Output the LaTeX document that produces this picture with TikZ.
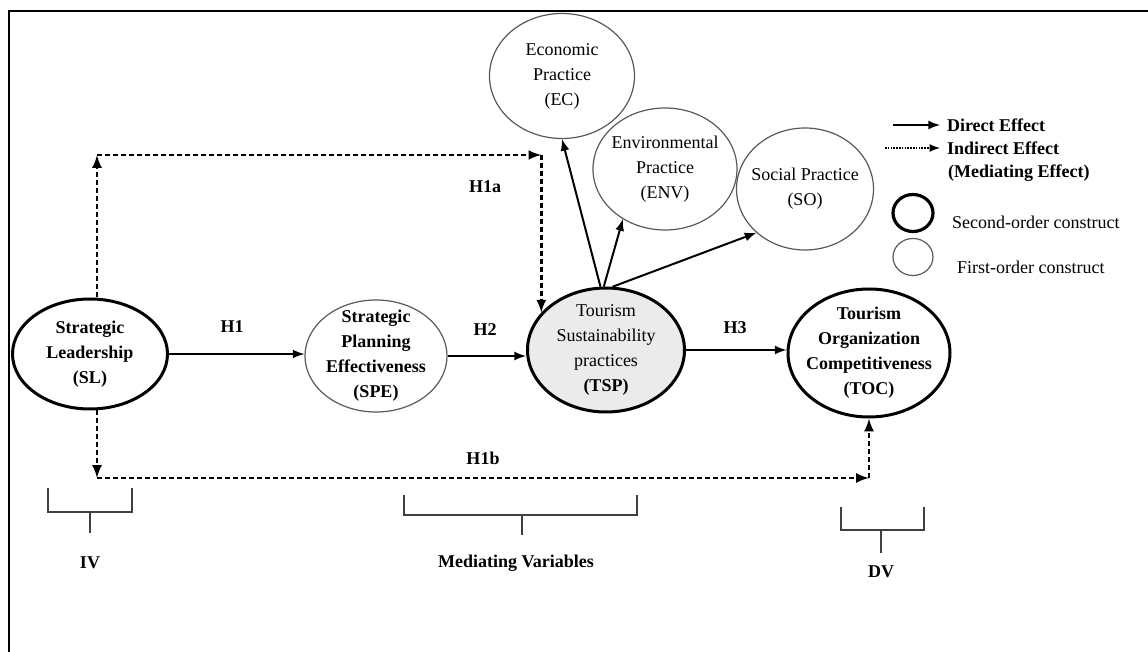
\documentclass[tikz,border=0pt]{standalone}
\usepackage{fontspec}
\setmainfont{Liberation Serif}
\usetikzlibrary{shapes.geometric,arrows,positioning,calc}

\tikzset{
  construct/.style={ellipse,draw,inner sep=0pt},
  second/.style={construct,line width=1.5pt},
  first/.style={construct,line width=0.6pt,draw=black!65},
  txt/.style={align=center,font=\fontsize{9}{12.5}\selectfont},
  btxt/.style={align=center,font=\fontsize{9}{12.5}\selectfont\bfseries},
  hyp/.style={font=\fontsize{9}{11}\selectfont\bfseries},
  direct/.style={line width=1pt,-latex},
  indirect/.style={line width=1.2pt,dash pattern=on 2.5pt off 1.5pt,-latex},
  bracket/.style={line width=0.6pt,draw=black!75}
}

\begin{document}
\begin{tikzpicture}[x=0.5pt,y=-0.5pt]
\useasboundingbox (0,0) rectangle (1148,652);
% frame
\draw[line width=1pt] (9,652) -- (9,11) -- (1148,11);

% main constructs
\node[second,minimum width=77.5pt,minimum height=55pt,label={[btxt]center:{Strategic\\ Leadership\\ (SL)}}] (sl) at (90,354) {};
\node[first,minimum width=71pt,minimum height=56pt,label={[btxt]center:{Strategic\\ Planning\\ Effectiveness\\ (SPE)}}] (spe) at (376,356) {};
\node[second,fill=black!8,minimum width=78.5pt,minimum height=62pt,label={[txt]center:{Tourism\\ Sustainability\\ practices\\ \textbf{(TSP)}}}] (tsp) at (606,350) {};
\node[second,minimum width=81pt,minimum height=64pt,label={[btxt]center:{Tourism\\ Organization\\ Competitiveness\\ (TOC)}}] (toc) at (869,353) {};

% dimensions of TSP
\node[first,minimum width=72.5pt,minimum height=62.5pt,label={[txt]center:{Economic\\ Practice\\ (EC)}}] (ec) at (562,76) {};
\node[first,minimum width=72pt,minimum height=61pt,label={[txt]center:{Environmental\\ Practice\\ (ENV)}}] (env) at (665,169) {};
\node[first,minimum width=68.5pt,minimum height=61pt,label={[txt]center:{Social Practice\\ (SO)}}] (so) at (805,189) {};

% direct paths
\draw[direct] (sl.east) -- (sl.east -| spe.west);
\draw[direct] (spe.east) -- (spe.east -| tsp.west);
\draw[direct] (tsp.east) -- (tsp.east -| toc.west);
\draw[direct] (tsp.95) -- (ec.south);
\draw[direct] (tsp.92) -- (env.230);
\draw[direct] (tsp.84) -- (so.222);

\node[hyp] (h1) at (232,327) {H1};
\node[hyp] (h2) at (485,330) {H2};
\node[hyp] (h3) at (735,328) {H3};

% indirect paths
\coordinate (a1) at (97,155);
\coordinate (a2) at (tsp.150 |- a1);
\draw[indirect] (a1 |- sl.north) -- (a1);
\draw[indirect] (a1) -- (a2);
\draw[indirect] (a2) -- (tsp.150);
\node[hyp] (h1a) at (485,187) {H1a};

\coordinate (b1) at (97,478);
\coordinate (b2) at (toc.south |- b1);
\draw[indirect] (b1 |- sl.south) -- (b1);
\draw[indirect] (b1) -- (b2);
\draw[indirect] (b2) -- (toc.south);
\node[hyp] (h1b) at (483,458) {H1b};

% legend
\node[hyp,anchor=west] (ldir) at (940,125) {Direct Effect};
\node[hyp,anchor=west] (lind) at (940,148) {Indirect Effect};
\node[hyp,anchor=west] (lmed) at (941,173) {(Mediating Effect)};
\coordinate (ld) at (893,125);
\coordinate (li) at (885,148);
\draw[direct] (ld) -- (ldir.west);
\draw[line width=0.8pt,dash pattern=on 0.8pt off 0.6pt,-latex] (li) -- (lind.west);
\node[construct,line width=1.6pt,minimum width=20pt,minimum height=18.5pt] (lsec) at (913,213) {};
\node[first,minimum width=20pt,minimum height=18.5pt] (lfir) at (913,257) {};
\node[txt,anchor=west] (tsec) at (945,222) {Second-order construct};
\node[txt,anchor=west] (tfir) at (950,267) {First-order construct};

% variable groups
\draw[bracket] (48,488) -- (48,512) -- (132,512) -- (132,488);
\draw[bracket] (90,512) -- (90,533);
\node[hyp] (iv) at (90,563) {IV};
\draw[bracket] (404,495) -- (404,515) -- (637,515) -- (637,495);
\draw[bracket] (522,515) -- (522,535);
\node[hyp] (med) at (516,563) {Mediating Variables};
\draw[bracket] (841,507) -- (841,530) -- (924,530) -- (924,507);
\draw[bracket] (881,530) -- (881,553);
\node[hyp] (dv) at (881,572) {DV};
\end{tikzpicture}
\end{document}
